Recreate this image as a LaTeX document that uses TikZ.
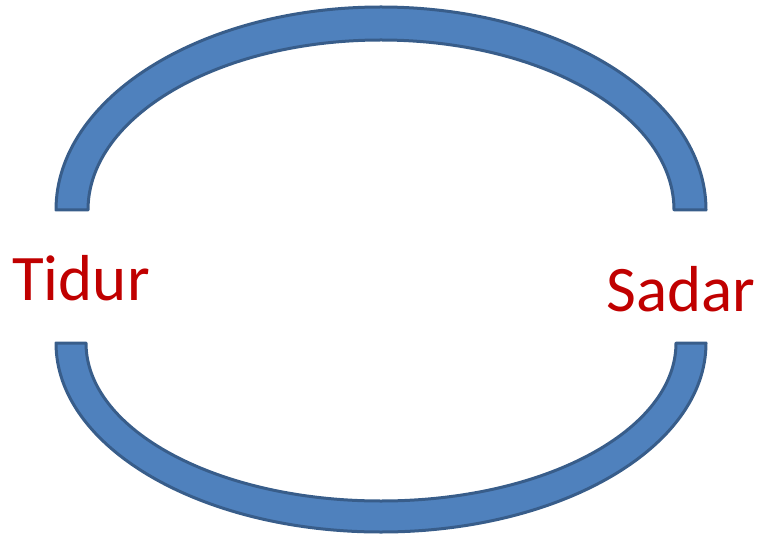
\documentclass[tikz,border=0pt]{standalone}
\usepackage{fontspec}
\setmainfont{Carlito}
\usepackage{tikz}
\usetikzlibrary{positioning}
\definecolor{bandfill}{HTML}{4F81BD}
\definecolor{banddraw}{HTML}{385D8A}
\definecolor{wordred}{HTML}{C00000}
\tikzset{
  band/.style={fill=bandfill,draw=banddraw,line width=3pt,line join=round},
  word/.style={text=wordred,inner sep=0pt,font=\fontsize{65}{78}\selectfont}}

\begin{document}
\begin{tikzpicture}[x=1pt,y=1pt]
  \useasboundingbox (0,0) rectangle (762,536);

  % upper half band
  \draw[band] (56,326) arc[start angle=180,end angle=0,
      x radius=325,y radius=203]
    -- (674,326) arc[start angle=0,end angle=180,
      x radius=293,y radius=170] -- cycle;

  % lower half band
  \draw[band] (56,193) arc[start angle=180,end angle=360,
      x radius=325,y radius=189]
    -- (676,193) arc[start angle=360,end angle=180,
      x radius=295,y radius=158] -- cycle;

  \node[word,anchor=base] (tidur) at (81,236) {Tidur};
  \node[word,anchor=base] (sadar) at (681,225) {Sadar};
\end{tikzpicture}
\end{document}
